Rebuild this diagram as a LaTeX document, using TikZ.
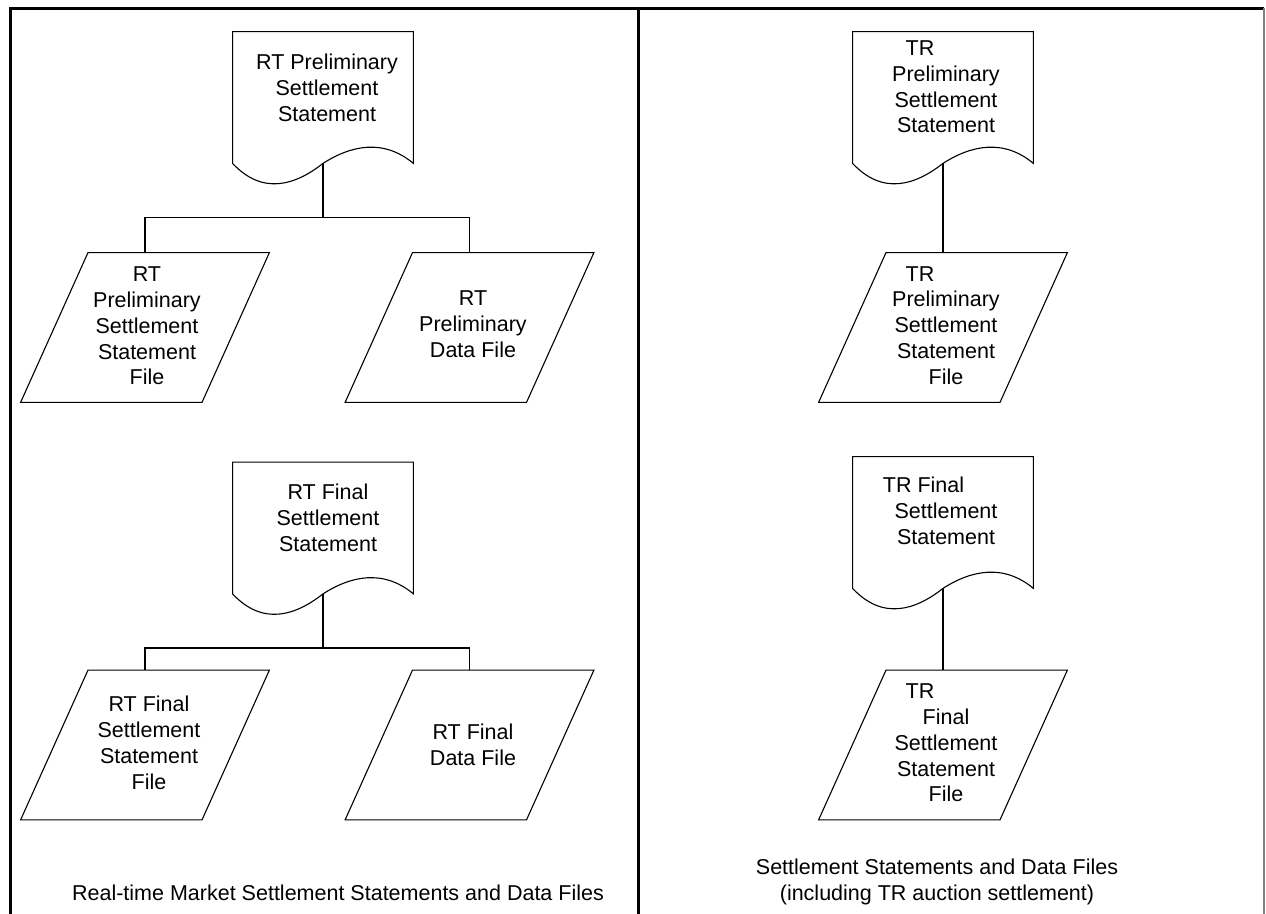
\documentclass[tikz,border=0pt]{standalone}
\usepackage{fontspec}
\setmainfont{Liberation Sans}
\newcommand\docoutline[1]{\draw[shapeline] (#1.south east) -- (#1.north east) -- (#1.north west) -- (#1.south west) .. controls +(30,32) and +(-28,22) .. (#1.south) .. controls +(28,-18) and +(-30,-25) .. (#1.south east) -- cycle;}
\newcommand\paraoutline[1]{\draw[shapeline] ([xshift=-28.5pt]#1.north) -- (#1.north east) -- ([xshift=28.5pt]#1.south) -- (#1.south west) -- cycle;}
\begin{document}
\begin{tikzpicture}[
 x=0.5pt, y=-0.5pt,
 shapeline/.style={draw=black, line width=0.55pt, line join=miter},
 conn/.style={draw=black, line width=0.65pt},
 frame/.style={draw=black, line width=1.5pt},
 txt/.style={align=center, inner sep=0pt, font=\fontsize{10.75}{12.9}\selectfont, text=black},
 docbox/.style={minimum width=90pt, minimum height=65.5pt, inner sep=0pt},
 parabox/.style={minimum width=124pt, minimum height=74.5pt, inner sep=0pt}
]
\useasboundingbox (0,0) rectangle (1266,914);
\fill[white] (0,0) rectangle (1266,914);

% frame
\draw[frame] (10,914) -- (10,8.5) -- (1264,8.5);
\draw[frame] (638,8.5) -- (638,914);
\draw[draw=gray, line width=0.9pt] (1264,8.5) -- (1264,914);

% ---------- left panel, preliminary ----------
\node[docbox] (d1) at (323,97.5) {};
\docoutline{d1}
\node[txt] (d1t) at (327,88) {RT Preliminary\\Settlement\\Statement};
\node[parabox] (p1) at (145,327.5) {};
\paraoutline{p1}
\node[txt] (p1t) at (147,326) {RT\\Preliminary\\Settlement\\Statement\\File};
\node[parabox] (p2) at (469.5,327.5) {};
\paraoutline{p2}
\node[txt] (p2t) at (473,324) {RT\\Preliminary\\Data File};
\draw[conn] (d1.south) -- ++(0,54) coordinate (j1);
\draw[conn] (p1.north) |- (j1) -| (p2.north);

% ---------- left panel, final ----------
\node[docbox] (d2) at (323,528) {};
\docoutline{d2}
\node[txt] (d2t) at (328,518) {RT Final\\Settlement\\Statement};
\node[parabox] (p3) at (145,745) {};
\paraoutline{p3}
\node[txt] (p3t) at (149,743) {RT Final\\Settlement\\Statement\\File};
\node[parabox] (p4) at (469.5,745) {};
\paraoutline{p4}
\node[txt] (p4t) at (473,744.5) {RT Final\\Data File};
\draw[conn] (d2.south) -- ++(0,54) coordinate (j2);
\draw[conn] (p3.north) |- (j2) -| (p4.north);

% ---------- right panel ----------
\node[docbox] (d3) at (943,97.5) {};
\docoutline{d3}
\node[txt] (d3t) at (946,87) {TR\hspace*{26pt}\\Preliminary\\Settlement\\Statement};
\node[parabox] (p5) at (943,327.5) {};
\paraoutline{p5}
\node[txt] (p5t) at (946,325.5) {TR\hspace*{26pt}\\Preliminary\\Settlement\\Statement\\File};
\draw[conn] (d3.south) -- (p5.north);

\node[docbox] (d4) at (943,522.5) {};
\docoutline{d4}
\node[txt] (d4t) at (946,511) {TR Final\hspace*{22.5pt}\\Settlement\\Statement};
\node[parabox] (p6) at (943,745) {};
\paraoutline{p6}
\node[txt] (p6t) at (946,743) {TR\hspace*{26pt}\\Final\\Settlement\\Statement\\File};
\draw[conn] (d4.south) -- (p6.north);

% captions
\node[txt] (c1) at (338,893) {Real-time Market Settlement Statements and Data Files};
\node[txt] (c2) at (937,882) {Settlement Statements and Data Files\\(including TR auction settlement)};
\end{tikzpicture}
\end{document}
